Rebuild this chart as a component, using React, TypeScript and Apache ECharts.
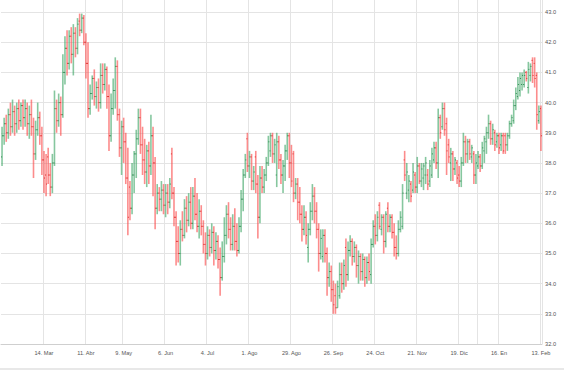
import React, { useEffect, useRef } from "react";
import * as echarts from "echarts";

// OHLC values, one per trading day (14 Feb 2022 .. 13 Feb 2023)
const opens = [
  38.2,38.9,39.3,39.0,39.6,39.2,39.7,39.3,39.8,39.4,
  39.9,39.5,39.8,39.3,39.6,39.2,38.3,39.1,39.5,38.9,
  38.1,37.6,38.2,37.6,37.2,38.0,39.8,39.4,40.0,39.6,
  41.0,41.8,41.3,42.2,41.6,42.3,41.8,42.7,42.4,42.8,
  42.0,41.3,39.8,40.3,40.8,40.2,40.5,40.0,40.9,40.6,
  41.1,40.2,38.9,39.8,40.4,41.2,39.6,38.5,39.2,38.7,
  37.5,37.2,36.5,37.6,38.3,38.8,39.5,38.6,38.1,37.7,
  38.4,37.9,38.9,38.0,36.5,37.0,36.8,37.1,36.6,37.0,
  36.7,38.3,37.0,36.2,35.4,35.0,35.8,35.6,36.5,36.1,
  36.7,36.0,36.9,36.3,35.9,36.4,35.9,35.3,35.0,35.6,
  35.2,35.7,35.1,35.4,34.8,34.2,34.9,35.6,36.3,35.8,
  35.3,35.9,35.4,35.1,35.9,36.8,37.6,38.8,37.9,38.2,
  37.4,38.2,37.3,36.2,37.5,37.2,37.6,38.0,38.4,38.9,
  38.3,37.6,38.7,38.1,37.6,37.9,38.4,38.9,38.0,38.3,
  37.0,37.3,36.7,36.3,35.8,36.2,35.2,35.8,36.4,36.9,
  36.4,35.8,35.0,34.9,35.6,35.0,34.2,34.4,33.8,33.6,
  33.2,33.6,34.3,34.0,35.2,34.3,35.1,35.4,34.9,35.2,
  34.6,34.9,34.4,34.8,34.2,34.7,34.3,35.3,35.9,35.6,
  36.6,35.8,36.2,35.4,36.5,35.9,36.2,35.7,35.2,35.0,
  35.8,35.9,38.1,37.0,37.1,37.3,37.1,37.6,37.2,37.9,
  37.4,37.5,37.6,37.6,37.4,37.6,38.1,38.5,38.0,39.5,
  39.2,39.8,39.3,38.6,38.0,38.3,37.8,38.0,37.6,37.4,
  38.0,38.7,38.3,38.7,38.2,38.3,37.6,37.9,38.2,37.9,
  38.4,38.7,39.0,39.3,38.8,39.0,38.7,38.9,38.6,38.9,
  38.9,38.6,38.9,39.3,39.4,39.9,40.2,40.4,40.6,40.6,
  41.0,40.5,40.9,41.4,41.3,40.9,39.4,39.8,
];
const closes = [
  38.9,39.3,39.0,39.6,39.2,39.7,39.3,39.8,39.4,39.9,
  39.5,39.8,39.3,39.6,39.2,38.3,39.1,39.5,38.9,38.1,
  37.5,37.3,37.6,37.2,38.0,39.8,39.4,40.0,39.6,41.0,
  41.8,41.3,42.2,41.6,42.3,41.8,42.6,42.4,42.8,42.0,
  41.3,39.8,40.3,40.8,40.2,40.5,40.0,40.9,40.6,41.1,
  40.2,38.9,39.8,40.4,41.2,39.6,38.5,39.2,38.7,37.5,
  36.2,36.5,37.6,38.3,38.8,39.5,38.6,38.1,37.7,38.4,
  37.9,38.9,38.0,36.5,37.0,36.8,37.1,36.6,37.0,36.7,
  37.3,37.0,36.2,35.4,35.0,35.8,35.6,36.5,36.1,36.7,
  36.0,36.9,36.3,35.9,36.4,35.9,35.3,35.0,35.6,35.2,
  35.7,35.1,35.4,34.8,34.2,34.9,35.6,36.3,35.8,35.3,
  35.9,35.4,35.1,35.9,36.8,37.6,38.1,37.9,38.2,37.4,
  37.7,37.3,36.2,37.5,37.2,37.6,38.0,38.7,38.9,38.3,
  38.6,38.7,38.1,37.6,37.9,38.4,38.9,38.0,37.4,37.0,
  37.3,36.7,36.3,35.8,36.2,35.6,35.8,36.4,36.9,36.4,
  35.8,35.0,35.5,35.6,35.0,34.2,34.4,33.8,33.3,33.2,
  33.9,34.3,34.0,34.6,34.3,35.1,35.4,34.9,35.2,34.6,
  34.9,34.4,34.8,34.2,34.7,34.4,35.3,35.9,35.6,36.2,
  35.9,36.2,35.4,36.3,35.9,36.2,35.7,35.2,35.0,35.8,
  36.2,37.0,37.6,37.7,37.4,36.9,37.7,37.2,37.9,37.4,
  37.8,37.9,38.0,37.3,37.9,38.3,38.5,38.0,39.5,39.0,
  39.8,39.1,38.4,38.2,38.3,37.8,38.1,37.5,37.4,38.0,
  38.7,38.3,38.7,38.3,38.5,37.6,38.0,38.2,37.9,38.5,
  38.8,39.0,39.3,38.8,39.1,38.6,38.9,38.5,38.9,38.4,
  38.6,38.9,39.3,39.5,39.9,40.3,40.6,40.8,40.9,40.9,
  40.8,41.1,41.2,40.9,40.8,39.6,39.7,38.9,
];
const lows = [
  37.9,38.6,38.7,38.8,38.9,39.0,38.9,39.0,39.1,39.2,
  39.1,39.2,38.9,38.8,38.9,37.5,38.1,38.9,38.6,37.6,
  37.0,36.9,37.3,36.9,37.0,37.9,39.0,39.2,38.9,39.5,
  40.6,40.9,41.1,41.3,40.9,41.5,41.6,42.2,42.3,41.9,
  40.8,39.5,39.6,40.1,39.9,39.8,39.7,39.8,40.3,40.4,
  39.8,38.4,38.7,39.6,39.8,39.4,38.2,37.6,38.0,37.3,
  35.6,36.1,36.3,37.0,37.5,38.6,38.3,37.6,37.3,37.2,
  37.3,37.6,36.9,35.8,36.3,36.4,36.4,36.3,36.2,36.3,
  36.5,36.8,35.9,34.6,34.7,34.6,35.4,35.5,35.7,35.9,
  35.8,35.8,36.1,35.7,35.5,35.6,35.0,34.6,34.8,34.9,
  35.0,34.6,34.8,34.5,33.6,34.1,34.7,35.3,35.5,35.1,
  35.1,35.1,34.9,35.0,35.7,36.4,37.5,37.7,37.5,37.1,
  37.1,37.0,35.5,36.0,37.0,37.0,37.4,37.9,38.2,38.0,
  38.0,37.2,37.8,37.3,37.0,37.4,38.1,37.5,37.2,36.7,
  36.8,36.1,36.0,35.4,35.6,35.3,34.7,35.6,36.1,36.0,
  35.5,34.4,34.8,34.7,34.7,33.6,33.9,33.4,33.0,33.0,
  33.2,33.5,33.7,33.8,33.9,34.1,34.9,34.6,34.7,34.2,
  34.0,34.1,34.1,33.9,34.0,34.1,34.0,35.2,35.3,35.4,
  35.8,35.6,35.0,35.2,35.7,35.7,35.5,34.9,34.8,34.9,
  35.7,35.8,37.4,36.8,36.7,36.7,37.0,37.0,37.0,37.3,
  37.2,37.1,37.3,37.1,37.2,37.5,38.0,37.8,37.5,38.8,
  39.1,38.9,37.6,38.0,37.4,37.4,37.6,37.3,37.2,37.2,
  37.9,38.0,38.0,38.1,38.0,37.3,37.3,37.8,37.7,37.8,
  38.0,38.3,38.8,38.6,38.6,38.4,38.5,38.3,38.4,38.3,
  38.3,38.4,38.8,39.2,39.3,39.75,40.1,40.2,40.4,40.5,
  40.7,40.3,40.7,40.65,40.5,39.1,39.3,38.4,
];
const highs = [
  39.2,39.5,39.6,39.8,40.0,40.1,39.9,40.0,40.1,40.0,
  40.1,40.1,40.0,39.9,40.1,39.5,39.4,40.0,39.7,39.2,
  38.4,38.3,38.5,38.0,38.3,40.4,40.1,40.3,40.2,41.6,
  42.2,42.4,42.4,42.5,42.6,42.5,42.8,42.95,42.95,42.9,
  42.3,42.0,40.6,40.9,41.1,40.7,40.8,41.3,41.3,41.3,
  41.2,40.6,40.3,40.8,41.5,41.4,39.8,39.4,39.5,39.0,
  38.5,37.4,38.0,38.4,39.1,39.8,39.8,39.2,38.8,38.6,
  38.7,39.6,39.2,38.2,37.3,37.2,37.4,37.3,37.3,37.3,
  37.5,38.5,37.2,36.4,35.9,36.1,36.4,36.8,36.9,37.0,
  37.2,37.2,37.5,37.0,36.8,36.6,36.1,35.7,35.9,35.8,
  36.0,35.9,35.7,35.6,35.2,35.4,36.2,36.6,36.7,36.2,
  36.3,36.5,36.0,36.2,37.1,37.8,38.3,39.0,38.4,38.3,
  37.9,38.4,37.6,37.9,37.9,37.8,38.2,38.9,39.0,39.0,
  38.8,39.0,38.9,38.3,38.1,38.6,39.0,39.0,38.6,38.4,
  37.5,37.5,37.2,36.6,36.6,36.4,36.0,36.7,37.3,37.2,
  36.7,36.0,35.8,35.8,35.8,35.2,34.7,34.6,34.1,34.0,
  34.1,34.7,34.7,34.8,35.5,35.4,35.6,35.5,35.4,35.3,
  35.1,35.0,35.0,34.9,34.9,35.0,35.5,36.1,36.3,36.4,
  36.7,36.3,36.3,36.4,36.7,36.3,36.3,36.0,35.6,36.1,
  36.4,37.3,38.4,38.0,37.6,37.4,38.0,37.7,38.2,38.0,
  38.0,38.0,38.2,37.8,38.1,38.5,38.7,38.7,39.8,39.6,
  40.0,40.0,39.5,38.8,38.5,38.4,38.2,38.1,37.9,38.2,
  39.0,38.9,38.8,38.8,38.6,38.4,38.3,38.4,38.3,38.7,
  38.9,39.2,39.6,39.4,39.3,39.1,39.0,39.0,39.0,39.0,
  39.0,39.0,39.4,39.6,40.1,40.5,40.85,41.0,41.0,41.1,
  41.05,41.35,41.3,41.5,41.5,41.0,39.9,39.9,
];

const firstDay = "2022-02-14";
const lastDay = "2023-02-13";
const holidays = ["2022-04-15", "2022-04-18", "2022-12-26"];
const tickDates = [
  "2022-03-14", "2022-04-11", "2022-05-09", "2022-06-06", "2022-07-04", "2022-08-01", "2022-08-29",
  "2022-09-26", "2022-10-24", "2022-11-21", "2022-12-19", "2023-01-16", "2023-02-13",
];
const tickLabels = [
  "14. Mar", "11. Abr", "9. May", "6. Jun", "4. Jul", "1. Ago", "29. Ago",
  "26. Sep", "24. Oct", "21. Nov", "19. Dic", "16. En", "13. Feb",
];
const extraGridDates = ["2023-01-02"];

const UP_LINE = "rgba(60,165,100,0.62)";
const UP_TICK = "#2f8a52";
const DOWN_LINE = "rgba(250,70,70,0.62)";
const DOWN_TICK = "#e02e2e";

function tradingDays(start: string, end: string, skip: string[]): string[] {
  const out: string[] = [];
  const d = new Date(start + "T00:00:00Z");
  const e = new Date(end + "T00:00:00Z");
  while (d.getTime() <= e.getTime()) {
    const wd = d.getUTCDay();
    const s = d.toISOString().slice(0, 10);
    if (wd !== 0 && wd !== 6 && !skip.includes(s)) out.push(s);
    d.setUTCDate(d.getUTCDate() + 1);
  }
  return out;
}

export default function App() {
  const ref = useRef<HTMLDivElement>(null);
  useEffect(() => {
    if (!ref.current) return;
    const chart = echarts.init(ref.current, null, { renderer: "svg" });
    const dates = tradingDays(firstDay, lastDay, holidays).slice(0, opens.length);
    const data = opens.map((o, i) => [i, o, closes[i], lows[i], highs[i]]);
    const font = "'Liberation Sans', Arial, sans-serif";
    chart.setOption({
      animation: false,
      backgroundColor: "#ffffff",
      grid: { left: 1, right: 22, top: 0, bottom: 26 },
      xAxis: {
        type: "category",
        data: dates,
        boundaryGap: true,
        axisLine: { lineStyle: { color: "#cfcfcf", width: 1 } },
        axisTick: { show: false },
        axisLabel: {
          interval: (_i: number, v: string) => tickDates.includes(v),
          formatter: (v: string) => {
            const k = tickDates.indexOf(v);
            return k >= 0 ? tickLabels[k] : "";
          },
          fontSize: 5.6,
          color: "#555",
          margin: 6,
          fontFamily: font,
        },
        splitLine: {
          show: true,
          interval: (_i: number, v: string) => tickDates.includes(v) || extraGridDates.includes(v),
          lineStyle: { color: "#e4e4e4", width: 1 },
        },
      },
      yAxis: {
        type: "value",
        position: "right",
        min: 32,
        max: 43.4,
        interval: 1,
        axisLine: { show: false },
        axisTick: { show: false },
        axisLabel: {
          formatter: (v: number) => (Math.abs(v - Math.round(v)) < 1e-6 ? v.toFixed(1) : ""),
          fontSize: 5.7,
          color: "#555",
          margin: 3,
          fontFamily: font,
        },
        splitLine: { show: true, showMaxLine: false, lineStyle: { color: "#e4e4e4", width: 1 } },
      },
      graphic: [
        { type: "rect", left: 0, top: 368, shape: { width: 564, height: 2 }, style: { fill: "#e8e8e8" }, silent: true },
      ],
      series: [
        {
          type: "custom",
          data,
          encode: { x: 0, y: [1, 2, 3, 4] },
          renderItem: (_params: any, api: any) => {
            const idx = api.value(0);
            const o = api.value(1);
            const c = api.value(2);
            const lo = api.value(3);
            const hi = api.value(4);
            const pHi = api.coord([idx, hi]);
            const pLo = api.coord([idx, lo]);
            const pO = api.coord([idx, o]);
            const pC = api.coord([idx, c]);
            const up = c >= o;
            const lineColor = up ? UP_LINE : DOWN_LINE;
            const tickColor = up ? UP_TICK : DOWN_TICK;
            const x = pHi[0];
            return {
              type: "group",
              children: [
                {
                  type: "line",
                  shape: { x1: x, y1: pHi[1], x2: x, y2: pLo[1] },
                  style: { stroke: lineColor, lineWidth: 1.6 },
                },
                {
                  type: "line",
                  shape: { x1: x - 1, y1: pO[1], x2: x, y2: pO[1] },
                  style: { stroke: tickColor, lineWidth: 1 },
                },
                {
                  type: "line",
                  shape: { x1: x, y1: pC[1], x2: x + 1, y2: pC[1] },
                  style: { stroke: tickColor, lineWidth: 1 },
                },
              ],
            };
          },
        },
      ],
    });
    return () => chart.dispose();
  }, []);
  return <div ref={ref} style={{ position: "fixed", left: 0, top: 0, width: 564, height: 370 }} />;
}
